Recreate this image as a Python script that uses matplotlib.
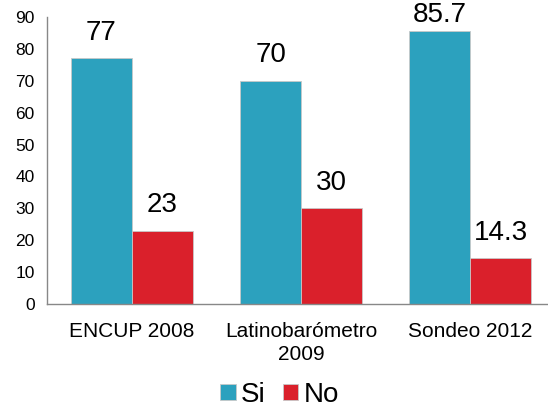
import matplotlib
matplotlib.use("Agg")
import matplotlib.pyplot as plt
import numpy as np

plt.rcParams['font.family'] = ['Liberation Sans', 'DejaVu Sans']

categories = ["ENCUP 2008", "Latinobarómetro\n2009", "Sondeo 2012"]
si_values = [77, 70, 85.7]
no_values = [23, 30, 14.3]
series_names = ["Si", "No"]
colors = ["#2CA1BE", "#DA202B"]

fig = plt.figure(figsize=(5.48, 4.13), dpi=100)
ax = fig.add_axes([0.086, 0.264, 0.927, 0.695])

x = np.arange(len(categories))
w = 0.36
bars_si = ax.bar(x - w / 2, si_values, w, color=colors[0], edgecolor="#c8c8c8", linewidth=0.6, label=series_names[0])
bars_no = ax.bar(x + w / 2, no_values, w, color=colors[1], edgecolor="#c8c8c8", linewidth=0.6, label=series_names[1])

for bars, vals in [(bars_si, si_values), (bars_no, no_values)]:
    for b, v in zip(bars, vals):
        off = 2 if v > 85 else 9
        ax.annotate(f"{v:g}", (b.get_x() + b.get_width() / 2, v), xytext=(0, off),
                    textcoords="offset points", ha="center", va="bottom", fontsize=20)

ax.set_xlim(-0.5, 2.5)
ax.set_ylim(0, 90)
ax.set_yticks(range(0, 91, 10))
ax.set_xticks(x)
ax.set_xticklabels(categories, fontsize=15, linespacing=1.25)
ax.tick_params(axis="y", length=0, labelsize=12.5, pad=9)
ax.tick_params(axis="x", length=0, pad=13)

for s in ["top", "right"]:
    ax.spines[s].set_visible(False)
for s in ["left", "bottom"]:
    ax.spines[s].set_color("#888888")
    ax.spines[s].set_linewidth(1)

fig.legend(loc="lower center", bbox_to_anchor=(0.51, -0.048), ncol=2, frameon=False,
           fontsize=20, handlelength=0.55, handleheight=0.55, handletextpad=0.2, columnspacing=0.6)

fig.savefig("out.png", dpi=100)
